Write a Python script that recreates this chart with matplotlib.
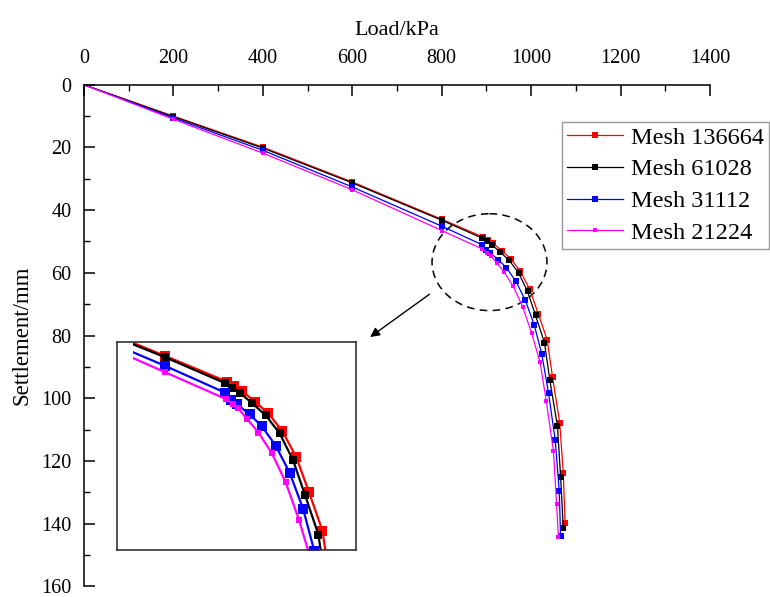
import matplotlib.pyplot as plt
from matplotlib.patches import Ellipse, Rectangle
from matplotlib.ticker import MultipleLocator

plt.rcParams['font.family'] = ['Liberation Serif', 'DejaVu Serif']

# load (kPa) and settlement (mm)
load_136664 = [0, 200, 400, 600, 800, 893, 904, 915, 935, 955, 976, 997, 1016, 1036, 1048, 1064, 1072, 1076]
sett_136664 = [0, 10.0, 19.9, 31.0, 42.9, 48.6, 49.6, 50.6, 53.0, 55.6, 59.5, 65.3, 73.0, 81.4, 93.3, 107.8, 123.8, 139.8]

load_61028 = [0, 200, 400, 600, 800, 890, 901, 912, 931, 951, 972, 992, 1010, 1030, 1042, 1059, 1066, 1072]
sett_61028 = [0, 10.2, 20.2, 31.3, 43.2, 48.9, 49.9, 51.0, 53.4, 56.0, 60.0, 65.9, 73.6, 82.3, 94.3, 108.9, 125.0, 141.3]

load_31112 = [0, 200, 400, 600, 800, 890, 899, 908, 927, 945, 966, 987, 1007, 1024, 1039, 1054, 1063, 1066]
sett_31112 = [0, 10.6, 20.9, 32.6, 45.1, 51.0, 52.6, 53.6, 55.8, 58.4, 62.7, 68.7, 76.6, 86.0, 98.3, 113.4, 129.6, 144.0]

load_21224 = [0, 200, 400, 600, 800, 891, 902, 910, 923, 940, 960, 981, 1001, 1020, 1034, 1050, 1057, 1061]
sett_21224 = [0, 11.0, 21.8, 33.5, 46.5, 52.4, 53.6, 54.5, 56.8, 59.8, 64.3, 70.8, 79.1, 88.5, 100.9, 116.9, 133.6, 144.2]

series = [
    ("Mesh 136664", load_136664, sett_136664, "#ff0000", 4.6),
    ("Mesh 61028", load_61028, sett_61028, "#000000", 4.3),
    ("Mesh 31112", load_31112, sett_31112, "#0000ff", 4.6),
    ("Mesh 21224", load_21224, sett_21224, "#ff00ff", 2.6),
]

fig = plt.figure(figsize=(7.7, 5.97), dpi=100)
ax = fig.add_axes([0.109, 0.018, 0.813, 0.840])

for name, x, y, c, ms in series:
    ax.plot(x, y, color=c, lw=0.9, marker="s", ms=ms, markevery=slice(1, None),
            markeredgewidth=0, label=name)

ax.set_xlim(0, 1400)
ax.set_ylim(160, 0)
ax.xaxis.set_major_locator(MultipleLocator(200))
ax.xaxis.set_minor_locator(MultipleLocator(100))
ax.yaxis.set_major_locator(MultipleLocator(20))
ax.yaxis.set_minor_locator(MultipleLocator(10))
ax.xaxis.tick_top()
ax.xaxis.set_label_position("top")
ax.tick_params(axis="x", which="both", direction="in", top=True, bottom=False)
ax.tick_params(axis="y", which="both", direction="in", left=True, right=False)
ax.tick_params(which="major", length=8, width=1.1, labelsize=14.5)
ax.tick_params(which="minor", length=4.5, width=1.0)
ax.tick_params(axis="x", which="major", pad=12)
ax.tick_params(axis="y", which="major", pad=9)
ax.spines["right"].set_visible(False)
ax.spines["bottom"].set_visible(False)
ax.spines["top"].set_linewidth(1.1)
ax.spines["left"].set_linewidth(1.1)
ax.set_xlabel("Load/kPa", fontsize=16, labelpad=10)
ax.set_ylabel("Settlement/mm", fontsize=16.5, labelpad=6)

leg = ax.legend(loc="upper right", bbox_to_anchor=(0.999, 0.796), bbox_transform=fig.transFigure,
                fontsize=17.5, frameon=True, fancybox=False, borderaxespad=0,
                handlelength=2.3, handletextpad=0.35, labelspacing=0.4, borderpad=0.2)
leg.get_frame().set_edgecolor("#808080")
leg.get_frame().set_linewidth(1.0)

# dashed circle around the knee
ax.add_patch(Ellipse((907, 56.6), 257, 30.9, fill=False, ls=(0, (5, 3.5)), lw=1.1, color="black"))
ax.annotate("", xy=(635, 81), xytext=(778, 66.3),
            arrowprops=dict(arrowstyle="-|>", color="black", lw=1.0, mutation_scale=14))

# zoomed inset
ix0, ix1, iy0, iy1 = 728, 1086, 85.7, 39.9
axins = fig.add_axes([0.152, 0.0787, 0.310, 0.348])
for name, x, y, c, ms in series:
    ln, = axins.plot(x, y, color=c, lw=1.6, marker="s", ms=ms * 1.45,
                     markevery=slice(1, None), markeredgewidth=0)
    ln.set_clip_path(Rectangle((752, iy1), ix1 - 752, iy0 - iy1, transform=axins.transData))
axins.set_xlim(ix0, ix1)
axins.set_ylim(iy0, iy1)
axins.set_xticks([])
axins.set_yticks([])
for s in axins.spines.values():
    s.set_linewidth(1.2)
    s.set_color("#333333")

fig.savefig("out.png", dpi=100)
